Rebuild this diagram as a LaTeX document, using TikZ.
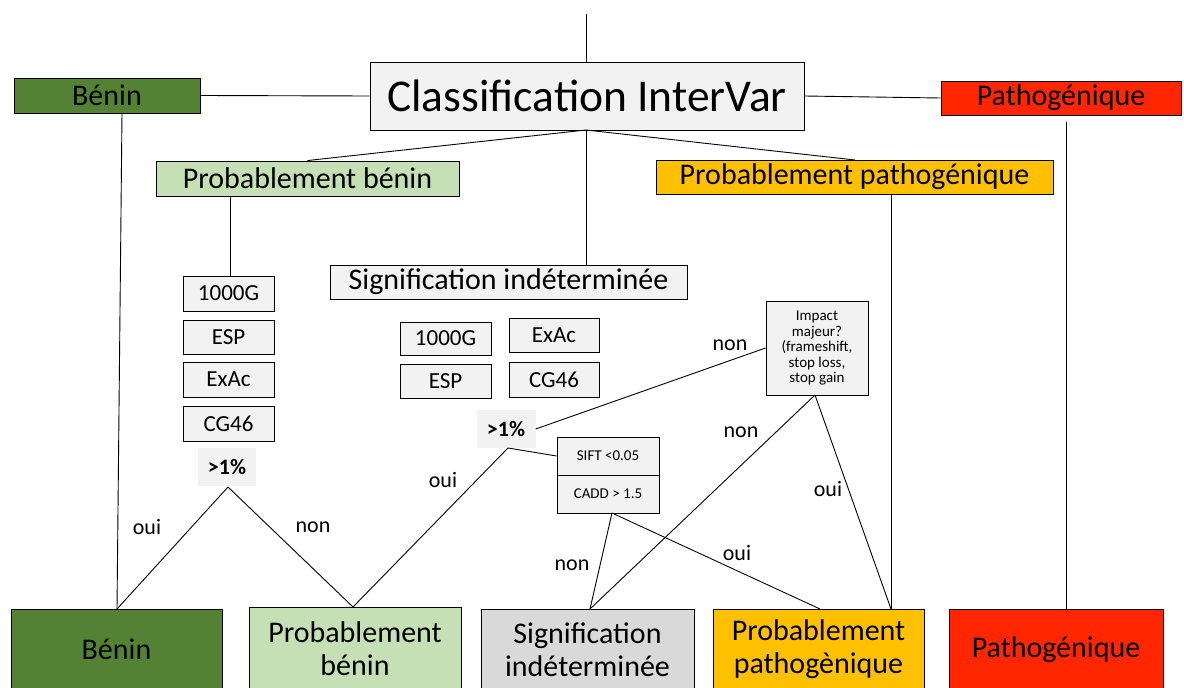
\documentclass[tikz,border=0pt]{standalone}
\usepackage{fontspec}
\setmainfont{Carlito}
\definecolor{dgreen}{HTML}{548235}
\definecolor{lgreen}{HTML}{C5E0B4}
\definecolor{lgrey}{HTML}{F2F2F2}
\definecolor{mgrey}{HTML}{D9D9D9}
\definecolor{amber}{HTML}{FFC000}
\definecolor{red2}{HTML}{FF2600}
\tikzset{
  box/.style={draw=black, line width=0.9pt, inner sep=0pt, align=center, text=black},
  tag/.style={fill=lgrey, inner sep=0pt, font=\fontsize{22}{26}\selectfont\bfseries},
  lbl/.style={font=\fontsize{22}{24}\selectfont, inner sep=0pt},
  conn/.style={draw=black, line width=0.9pt},
  small/.style={fill=lgrey,font=\fontsize{23}{26}\selectfont},
  big/.style={font=\fontsize{30}{33}\selectfont},
}
\newcommand{\bx}[7]{% name, x1, y1, x2, y2, style, text
  \node[box,#6,minimum width=#4pt-#2pt,minimum height=#5pt-#3pt] (#1) at ({(#2+#4)/2},{(#3+#5)/2}) {#7};}
\begin{document}
\begin{tikzpicture}[x=1pt,y=-1pt]
\useasboundingbox (0,0) rectangle (1184,688);
\clip (0,0) rectangle (1184,688);
% top row
\bx{main}{370}{62}{804}{130}{fill=lgrey,font=\fontsize{45.5}{50}\selectfont}{Classification InterVar}
\bx{benT}{14}{78}{200}{113}{fill=dgreen,big}{Bénin}
\bx{patT}{941}{81}{1181}{115}{fill=red2,big}{Pathogénique}
\bx{pbT}{156}{161}{459}{196}{fill=lgreen,big}{Probablement bénin}
\bx{ppT}{656}{160}{1053}{194}{fill=amber,big}{Probablement pathogénique}
\bx{siT}{330}{265}{687}{299}{fill=lgrey,big}{Signification indéterminée}
% left column
\bx{l1}{183}{276}{274}{311}{small}{1000G}
\bx{l2}{183}{320}{274}{354}{small}{ESP}
\bx{l3}{183}{362}{274}{397}{small}{ExAc}
\bx{l4}{183}{406}{274}{441}{small}{CG46}
\node[tag,minimum width=58pt,minimum height=38pt] (lt) at (227,467) {>1\%};
% center group
\bx{c1}{400}{322}{491}{355}{small}{1000G}
\bx{c2}{509}{318}{599}{352}{small}{ExAc}
\bx{c3}{400}{364}{491}{398}{small}{ESP}
\bx{c4}{509}{362}{599}{397}{small}{CG46}
\node[tag,minimum width=59pt,minimum height=38pt] (ct) at (506,429) {>1\%};
% SIFT / CADD
\bx{sift}{557}{437}{659}{475}{fill=lgrey,font=\fontsize{15}{18}\selectfont}{SIFT <0.05}
\bx{cadd}{557}{475}{659}{513}{fill=lgrey,font=\fontsize{15}{18}\selectfont}{CADD > 1.5}
% Impact
\bx{imp}{766}{301}{868}{395}{fill=lgrey,font=\fontsize{15}{15.5}\selectfont}{Impact\\majeur?\\(frameshift,\\stop loss,\\stop gain}
% bottom row
\bx{benB}{11}{609}{222}{690}{fill=dgreen,big}{Bénin}
\bx{pbB}{249}{607}{461}{690}{fill=lgreen,big}{Probablement\\bénin}
\bx{siB}{481}{609}{694}{690}{fill=mgrey,big}{Signification\\indéterminée}
\bx{ppB}{713}{609}{924}{690}{fill=amber,big}{Probablement\\pathogènique}
\bx{paB}{949}{609}{1163}{690}{fill=red2,big}{Pathogénique}
% coordinates
\coordinate (top) at (586,14);
\coordinate (mb) at (586,130);
\coordinate (sitop) at (586,265);
\coordinate (pptop) at (855,160);
\coordinate (ltb) at (228,487);
\coordinate (ctb) at (508,448);
\coordinate (caddb) at (612,513);
\coordinate (impb) at (815,395);
% connectors
\draw[conn] (top) -- (mb |- main.north);
\draw[conn] (benT.east) -- (main.west);
\draw[conn] (main.east) -- (patT.west);
\draw[conn] (mb) -- (pbT.north);
\draw[conn] (mb) -- (sitop);
\draw[conn] (mb) -- (pptop);
\draw[conn] (122,113) -- (117,609);
\draw[conn] (1066,122) -- (1066,609);
\draw[conn] (230,196) -- (230,276);
\draw[conn] (891,194) -- (891,609);
\draw[conn] (ltb) -- (117,609);
\draw[conn] (ltb) -- (353,607);
\draw[conn] (ct.east) -- (imp.west);
\draw[conn] (ctb) -- (353,607);
\draw[conn] (ctb) -- (sift.west);
\draw[conn] (caddb) -- (590,609);
\draw[conn] (caddb) -- (820,609);
\draw[conn] (impb) -- (590,609);
\draw[conn] (impb) -- (891,609);
% labels
\node[lbl] (o1) at (147,527) {oui};
\node[lbl] (n1) at (313,527) {non};
\node[lbl] (o2) at (443,480) {oui};
\node[lbl] (n2) at (730,345) {non};
\node[lbl] (n3) at (741,432) {non};
\node[lbl] (n4) at (572,565) {non};
\node[lbl] (o3) at (737,553) {oui};
\node[lbl] (o4) at (828,489) {oui};
\end{tikzpicture}
\end{document}
